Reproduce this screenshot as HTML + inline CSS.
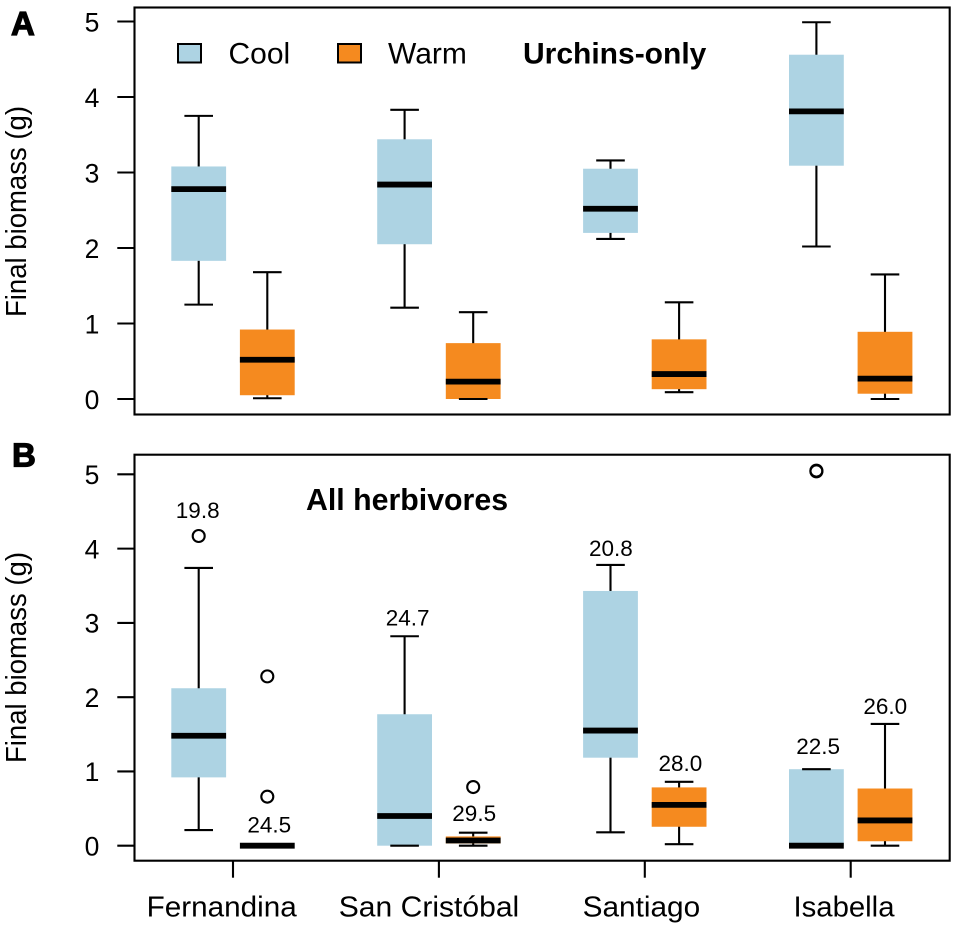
<!DOCTYPE html>
<html lang="en">
<head>
<meta charset="utf-8">
<title>Final biomass box plots</title>
<style>
html,body{margin:0;padding:0;background:#fff;width:957px;height:930px;overflow:hidden}
svg{display:block;font-family:"Liberation Sans",Arial,sans-serif}
</style>
</head>
<body>
<svg id="chart" width="957" height="930" viewBox="0 0 957 930" xmlns="http://www.w3.org/2000/svg">
  <rect x="0" y="0" width="957" height="930" fill="#fff"/>
  <text x="11" y="35" font-size="33" font-weight="700" stroke="#000" stroke-width="1.2" fill="#000">A</text>
  <text x="12" y="466.5" font-size="33" font-weight="700" stroke="#000" stroke-width="1.2" fill="#000">B</text>
  <text transform="translate(26,211.5) rotate(-90)" text-anchor="middle" font-size="28.5" textLength="211" lengthAdjust="spacingAndGlyphs" fill="#000">Final biomass (g)</text>
  <text transform="translate(26,657.5) rotate(-90)" text-anchor="middle" font-size="28.5" textLength="211" lengthAdjust="spacingAndGlyphs" fill="#000">Final biomass (g)</text>
  <g>
    <rect x="178" y="44" width="23" height="18.5" fill="#add3e3" stroke="#000" stroke-width="2"/>
    <text x="228.5" y="63.5" font-size="30" fill="#000">Cool</text>
    <rect x="338" y="44" width="23" height="18.5" fill="#f58a1f" stroke="#000" stroke-width="2"/>
    <text x="388" y="63.5" font-size="30" fill="#000">Warm</text>
  </g>
  <text x="523" y="63.3" font-size="30" font-weight="700" fill="#000">Urchins-only</text>
  <text x="306" y="510" font-size="30.3" font-weight="700" fill="#000">All herbivores</text>
</svg>
<script>
const categories = ["Fernandina", "San Cristóbal", "Santiago", "Isabella"];
const yTickLabels = [0, 1, 2, 3, 4, 5];

// Each row: [low whisker, Q1, median, Q3, high whisker]
const urchinsCool = [
  [1.25, 1.83, 2.78, 3.08, 3.75],
  [1.21, 2.05, 2.84, 3.44, 3.83],
  [2.12, 2.20, 2.52, 3.05, 3.16],
  [2.02, 3.09, 3.81, 4.56, 4.99]
];
const urchinsWarm = [
  [0.01, 0.05, 0.52, 0.92, 1.68],
  [0.00, 0.00, 0.23, 0.74, 1.15],
  [0.09, 0.13, 0.33, 0.79, 1.28],
  [0.00, 0.07, 0.27, 0.89, 1.65]
];
const herbivoresCool = [
  [0.21, 0.92, 1.48, 2.12, 3.74],
  [0.00, 0.00, 0.40, 1.77, 2.82],
  [0.18, 1.185, 1.55, 3.43, 3.78],
  [0.00, 0.00, 0.00, 1.03, 1.03]
];
const herbivoresWarm = [
  [0.00, 0.00, 0.00, 0.00, 0.00],
  [0.00, 0.03, 0.07, 0.125, 0.175],
  [0.02, 0.255, 0.55, 0.785, 0.86],
  [0.00, 0.06, 0.34, 0.77, 1.64]
];
const herbivoresCoolOutliers = [[4.17], [], [], [5.04, 5.05]];
const herbivoresWarmOutliers = [[0.66, 2.28], [0.79], [], []];
const herbivoresCoolLabels = ["19.8", "24.7", "20.8", "22.5"];
const herbivoresWarmLabels = ["24.5", "29.5", "28.0", "26.0"];

const coolColor = "#add3e3";
const warmColor = "#f58a1f";
const svg = document.getElementById("chart");
const NS = "http://www.w3.org/2000/svg";

function make(tag, attrs, parent) {
  const el = document.createElementNS(NS, tag);
  for (const k in attrs) el.setAttribute(k, attrs[k]);
  parent.appendChild(el);
  return el;
}

// Axis functions
function xGroup(i) { return 233 + i * 205.9; }
function xBox(i, s) { return xGroup(i) + (s === 0 ? -34.3 : 34.3); }

const panelA = { top: 7.5, bottom: 414.5, left: 134.5, right: 949.7, zero: 399, unit: 75.5, key: "panel-a" };
const panelB = { top: 454.7, bottom: 860.7, left: 134.5, right: 949.7, zero: 845.7, unit: 74.27, key: "panel-b" };
function yScale(p, v) { return p.zero - v * p.unit; }

const halfBox = 27.4;
const halfCap = 14.3;
const lineW = 2.1;

function drawBox(p, i, s, row, color) {
  const cx = xBox(i, s);
  const [low, q1, med, q3, high] = row;
  const series = s === 0 ? "cool" : "warm";
  const tag = p.key + "-" + series + "-" + i;
  const g = make("g", {}, svg);
  
  

  const stem = make("line", { x1: cx, x2: cx, y1: yScale(p, low), y2: yScale(p, high), stroke: "#000", "stroke-width": lineW }, g);
  
  

  const box = make("rect", { x: cx - halfBox, width: halfBox * 2, y: yScale(p, q3), height: Math.max(0, yScale(p, q1) - yScale(p, q3)), fill: color }, g);
  
  

  const capHigh = make("line", { x1: cx - halfCap, x2: cx + halfCap, y1: yScale(p, high), y2: yScale(p, high), stroke: "#000", "stroke-width": lineW }, g);
  
  

  const capLow = make("line", { x1: cx - halfCap, x2: cx + halfCap, y1: yScale(p, low), y2: yScale(p, low), stroke: "#000", "stroke-width": lineW }, g);
  
  

  const median = make("line", { x1: cx - halfBox, x2: cx + halfBox, y1: yScale(p, med), y2: yScale(p, med), stroke: "#000", "stroke-width": 5.8 }, g);
  
  
}

function drawOutliers(p, i, s, values) {
  values.forEach(function (v) {
    const c = make("circle", { cx: xBox(i, s), cy: yScale(p, v), r: 6, fill: "none", stroke: "#000", "stroke-width": 2.1 }, svg);
    
    
  });
}

function drawYAxis(p) {
  yTickLabels.forEach(function (t) {
    const tick = make("line", { x1: 117.3, x2: p.left, y1: yScale(p, t), y2: yScale(p, t), stroke: "#000", "stroke-width": lineW }, svg);
    
    
    const lab = make("text", { x: 92, y: yScale(p, t) + 9.8, "text-anchor": "middle", "font-size": 26.5, fill: "#000" }, svg);
    
    
    lab.textContent = t;
  });
}

function drawFrame(p) {
  const f = make("rect", { x: p.left, y: p.top, width: p.right - p.left, height: p.bottom - p.top, fill: "none", stroke: "#000", "stroke-width": 2.1 }, svg);
  
  
}

[panelA, panelB].forEach(function (p) {
  drawFrame(p);
  drawYAxis(p);
});

categories.forEach(function (name, i) {
  drawBox(panelA, i, 0, urchinsCool[i], coolColor);
  drawBox(panelA, i, 1, urchinsWarm[i], warmColor);
  drawBox(panelB, i, 0, herbivoresCool[i], coolColor);
  drawBox(panelB, i, 1, herbivoresWarm[i], warmColor);
  drawOutliers(panelB, i, 0, herbivoresCoolOutliers[i]);
  drawOutliers(panelB, i, 1, herbivoresWarmOutliers[i]);
});

// Layout nudges for hand-placed annotations and x labels (pixels, not data)
const coolLabelLift = [50, 11, 9, 15];
const warmLabelLift = [13, 11.7, 10.7, 10];
const warmLabelShift = [2, 1, 1.3, 0.3];
const coolLabelShift = [-1, 3, 0.4, 1.7];
const xLabelShift = [-11.3, -9.9, -3.4, -6.7];
const xLabelFit = [150, 180.5, 117.5, 101];

categories.forEach(function (name, i) {
  const c = make("text", { x: xBox(i, 0) + coolLabelShift[i], y: yScale(panelB, herbivoresCool[i][4]) - coolLabelLift[i], "text-anchor": "middle", "font-size": 22.5, fill: "#000" }, svg);
  
  
  c.textContent = herbivoresCoolLabels[i];

  const w = make("text", { x: xBox(i, 1) + warmLabelShift[i], y: yScale(panelB, herbivoresWarm[i][4]) - warmLabelLift[i], "text-anchor": "middle", "font-size": 22.5, fill: "#000" }, svg);
  
  
  w.textContent = herbivoresWarmLabels[i];

  const tick = make("line", { x1: xGroup(i), x2: xGroup(i), y1: panelB.bottom, y2: 877.7, stroke: "#000", "stroke-width": lineW }, svg);
  
  

  const lab = make("text", { x: xGroup(i) + xLabelShift[i], y: 916.7, "text-anchor": "middle", "font-size": 29, textLength: xLabelFit[i], lengthAdjust: "spacingAndGlyphs", fill: "#000" }, svg);
  
  
  lab.textContent = name;
});
</script>
</body>
</html>
